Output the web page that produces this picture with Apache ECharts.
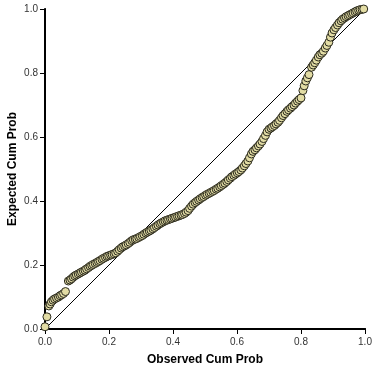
<!DOCTYPE html>
<html>
<head>
<meta charset="UTF-8">
<title>P-P Plot</title>
<script src="https://cdn.jsdelivr.net/npm/echarts@6/dist/echarts.min.js"></script>
<style>
html, body { margin: 0; padding: 0; background: #fff; }
#chart { width: 374px; height: 371px; }
</style>
</head>
<body>
<div id="chart"></div>
<script type="text/javascript">
// 观测累积概率 / 期望累积概率
var tickValues = [0, 0.2, 0.4, 0.6, 0.8, 1.0];
var refLine = [[0, 0], [1, 1]];
var observed = [0.000,0.006,0.012,0.016,0.020,0.025,0.030,0.036,0.042,0.047,0.052,0.058,0.064,
  0.073,0.078,0.083,0.088,0.093,0.098,0.104,0.109,0.114,0.120,0.125,0.130,0.136,0.141,0.146,0.151,0.157,0.162,0.167,0.172,0.178,0.183,0.189,0.194,0.199,
  0.205,0.210,0.216,0.221,0.227,0.232,0.238,0.243,0.249,0.254,0.260,0.265,0.271,0.276,0.282,0.287,0.293,0.298,
  0.304,0.309,0.315,0.320,0.326,0.331,0.337,0.342,0.348,0.353,0.359,0.364,0.370,0.375,0.381,0.386,0.392,0.397,
  0.403,0.408,0.414,0.419,0.425,0.430,0.436,0.441,0.447,0.452,0.458,0.463,0.469,0.474,0.480,0.485,0.491,0.496,
  0.502,0.507,0.513,0.518,0.524,0.529,0.535,0.540,0.546,0.551,0.557,0.562,0.568,0.573,0.579,0.584,0.590,0.595,
  0.601,0.606,0.612,0.617,0.623,0.628,0.634,0.639,0.645,0.650,0.656,0.661,0.667,0.672,0.678,0.683,0.689,0.694,
  0.700,0.706,0.711,0.717,0.722,0.728,0.733,0.739,0.744,0.750,0.756,0.761,0.767,0.772,0.778,0.783,0.789,0.794,
  0.800,0.806,0.810,0.815,0.820,0.825,0.833,0.838,0.843,0.848,0.854,0.859,0.865,0.870,0.876,0.881,0.887,0.892,0.897,
  0.903,0.908,0.914,0.919,0.925,0.930,0.936,0.941,0.947,0.952,0.958,0.963,0.969,0.974,0.980,0.985,0.991,0.996];
var expected = [0.007,0.038,0.072,0.078,0.085,0.090,0.094,0.097,0.100,0.104,0.107,0.111,0.117,
  0.150,0.153,0.157,0.162,0.166,0.169,0.172,0.175,0.178,0.181,0.184,0.188,0.192,0.196,0.199,0.202,0.205,0.208,0.211,0.214,0.218,0.221,0.224,0.227,0.229,
  0.231,0.233,0.235,0.238,0.243,0.248,0.253,0.257,0.260,0.263,0.267,0.271,0.276,0.279,0.281,0.283,0.286,0.289,
  0.292,0.296,0.300,0.303,0.306,0.309,0.313,0.317,0.321,0.325,0.329,0.332,0.335,0.338,0.340,0.342,0.344,0.346,
  0.348,0.350,0.352,0.354,0.356,0.358,0.361,0.365,0.370,0.377,0.384,0.390,0.395,0.399,0.403,0.407,0.411,0.414,
  0.418,0.421,0.424,0.427,0.430,0.433,0.437,0.440,0.444,0.448,0.452,0.456,0.461,0.466,0.471,0.476,0.480,0.484,
  0.488,0.492,0.497,0.503,0.510,0.517,0.525,0.535,0.547,0.555,0.560,0.566,0.572,0.578,0.586,0.595,0.605,0.616,
  0.624,0.628,0.632,0.636,0.641,0.646,0.652,0.660,0.667,0.673,0.680,0.685,0.690,0.695,0.700,0.706,0.712,0.717,
  0.722,0.745,0.760,0.775,0.785,0.795,0.818,0.825,0.832,0.840,0.850,0.857,0.862,0.868,0.878,0.886,0.896,0.912,0.925,
  0.935,0.942,0.950,0.957,0.963,0.968,0.972,0.976,0.979,0.982,0.985,0.988,0.991,0.994,0.996,0.998,0.999,1.000];

var pts = [];
for (var i = 0; i < observed.length; i++) {
  pts.push([observed[i], expected[i]]);
}

var myChart = echarts.init(document.getElementById("chart"));
var labelFont = {fontFamily: 'Liberation Sans, Arial, sans-serif', fontSize: 10, color: '#333'};
var nameFont = {fontFamily: 'Liberation Sans, Arial, sans-serif', fontSize: 12, fontWeight: 'bold', color: '#000'};

var option = {
  animation: false,
  grid: { left: 45, right: 9, top: 9, bottom: 42, outerBoundsMode: 'none', containLabel: false },
  xAxis: [{
    type: 'value', min: 0, max: 1, interval: 0.2,
    name: 'Observed Cum Prob', nameLocation: 'middle', nameGap: 25, nameMoveOverlap: false,
    nameTextStyle: nameFont,
    axisLine: { show: true, lineStyle: { color: '#000', width: 2 } },
    axisTick: { show: true, length: 5, lineStyle: { color: '#000', width: 1 } },
    axisLabel: Object.assign({ margin: 8, formatter: function (v) { return v.toFixed(1); } }, labelFont),
    splitLine: { show: false }
  }, {
    type: 'value', min: 0, max: 1, position: 'top',
    axisLine: { show: true, lineStyle: { color: '#000', width: 2 } },
    axisTick: { show: false }, axisLabel: { show: false }, splitLine: { show: false }
  }],
  yAxis: [{
    type: 'value', min: 0, max: 1, interval: 0.2,
    name: 'Expected Cum Prob', nameLocation: 'middle', nameGap: 26, nameMoveOverlap: false,
    nameTextStyle: nameFont,
    axisLine: { show: true, lineStyle: { color: '#000', width: 2 } },
    axisTick: { show: true, length: 5, lineStyle: { color: '#000', width: 1 } },
    axisLabel: Object.assign({ margin: 7, formatter: function (v) { return v.toFixed(1); } }, labelFont),
    splitLine: { show: false }
  }, {
    type: 'value', min: 0, max: 1, position: 'right',
    axisLine: { show: true, lineStyle: { color: '#000', width: 1 } },
    axisTick: { show: false }, axisLabel: { show: false }, splitLine: { show: false }
  }],
  series: [{
    type: 'line',
    data: refLine,
    symbol: 'none',
    lineStyle: { color: '#000', width: 1 },
    z: 1
  }, {
    type: 'scatter',
    data: pts,
    symbol: 'circle',
    symbolSize: 8,
    itemStyle: { color: '#e2dca4', borderColor: '#2b2a1e', borderWidth: 1, opacity: 1 },
    z: 2
  }]
};
myChart.setOption(option);
</script>
</body>
</html>
